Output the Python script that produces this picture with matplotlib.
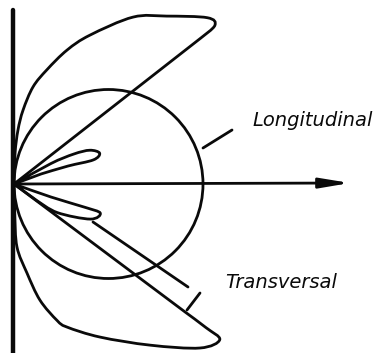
import numpy as np
import matplotlib.pyplot as plt
from matplotlib.path import Path
from matplotlib.patches import PathPatch, Circle

# radiation pattern lobes as (angle in degrees, radius) pairs, source at origin
trans_up_ang = [88, 85.8, 83, 78.9, 73.9, 68.4, 63, 54.5, 47.7, 40.7, 38.3, 38.0]
trans_up_r = [31, 54, 74.5, 99, 119, 144, 167, 205, 227, 255, 256, 237]
trans_dn_ang = [-88.5, -87.3, -81.7, -77.4, -72.5, -69.7, -60.7, -49.8, -41.4, -37.1, -36.8, -36.8]
trans_dn_r = [30, 63, 90, 119, 143, 152.5, 175.5, 211, 248, 258, 240, 214]
small_up_ang = [29, 26.6, 24.0, 19.8, 16.9, 18.4, 20.3]
small_up_r = [42, 67, 83, 91, 83, 57, 29]
small_dn_ang = [-19.4, -18.2, -18.6, -24.7, -33.4, -36.0]
small_dn_r = [39, 74, 91, 84, 52, 28]
long_diam = 189  # longitudinal pattern is a circle through the source

INK = "#0a0a0a"
LW = 2.0


def to_xy(ang, r):
    a = np.radians(ang)
    r = np.asarray(r, float)
    return np.column_stack([r * np.cos(a), r * np.sin(a)])


def smooth_path(pts, close_to_origin=True):
    # catmull-rom through the points, drawn as cubic beziers
    pts = np.vstack([[0, 0], pts])
    ext = np.vstack([pts[0], pts, pts[-1]])
    verts = [pts[0]]
    codes = [Path.MOVETO]
    for i in range(1, len(ext) - 2):
        p0, p1, p2, p3 = ext[i - 1], ext[i], ext[i + 1], ext[i + 2]
        verts += [p1 + (p2 - p0) / 6, p2 - (p3 - p1) / 6, p2]
        codes += [Path.CURVE4] * 3
    if close_to_origin:
        verts.append([0, 0])
        codes.append(Path.LINETO)
    return Path(verts, codes)


fig = plt.figure(figsize=(3.87, 3.53), dpi=100)
ax = fig.add_axes([0, 0, 1, 1])
ax.set_xlim(-14, 373)
ax.set_ylim(-169, 184)
ax.axis("off")

for ang, r in [(trans_up_ang, trans_up_r), (trans_dn_ang, trans_dn_r),
               (small_up_ang, small_up_r), (small_dn_ang, small_dn_r)]:
    ax.add_patch(PathPatch(smooth_path(to_xy(ang, r)), fill=False,
                           edgecolor=INK, lw=LW, joinstyle="round", capstyle="round"))

ax.add_patch(Circle((long_diam / 2, 0), long_diam / 2, fill=False, edgecolor=INK, lw=LW))

# axes of the sketch
ax.plot([-1, -1], [174, -169], color=INK, lw=3.2, solid_capstyle="round")
ax.annotate("", xy=(336, 1), xytext=(0, 0),
            arrowprops=dict(arrowstyle="-|>,head_length=1.8,head_width=0.3",
                            color=INK, lw=LW, shrinkA=0, shrinkB=0))

# leader lines and labels
ax.plot([189, 218], [36, 54], color=INK, lw=LW, solid_capstyle="round")
ax.plot([79, 174], [-38, -103], color=INK, lw=LW, solid_capstyle="round")
ax.plot([173, 186], [-126, -109], color=INK, lw=LW, solid_capstyle="round")
ax.text(299, 63, "Longitudinal", fontsize=14, style="italic", ha="center", va="center",
        color=INK, family="DejaVu Sans")
ax.text(267, -99, "Transversal", fontsize=14, style="italic", ha="center", va="center",
        color=INK, family="DejaVu Sans")

fig.savefig("out.png", dpi=100)
